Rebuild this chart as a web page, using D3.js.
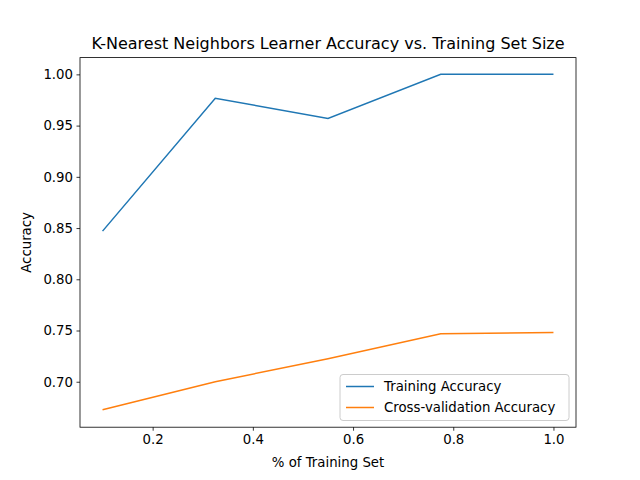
<!DOCTYPE html>
<html>
<head>
<script src="https://cdn.jsdelivr.net/npm/d3@7"></script>
<style>
body { margin: 0; background: #fff; }
text { font-family: "DejaVu Sans", sans-serif; }
</style>
</head>
<body>
<svg width="640" height="480"></svg>
<script>
var fractions = [0.1, 0.325, 0.55, 0.775, 1.0];
var trainAcc = [0.847, 0.9766, 0.957, 1.0, 1.0];
var cvAcc = [0.6727, 0.700, 0.7224, 0.7468, 0.748];
var xTicks = [0.2, 0.4, 0.6, 0.8, 1.0];
var yTicks = [0.70, 0.75, 0.80, 0.85, 0.90, 0.95, 1.00];
var seriesNames = ["Training Accuracy", "Cross-validation Accuracy"];
var colors = ["#1f77b4", "#ff7f0e"];

var svg = d3.select("svg");
var L = 80, R = 576, T = 57.6, B = 427.2;

var x = d3.scaleLinear().domain([0.055, 1.045]).range([L, R]);
var y = d3.scaleLinear().domain([0.65563, 1.01637]).range([B, T]);

var xAxis = svg.append("g").attr("transform", "translate(0," + B + ")")
    .call(d3.axisBottom(x).tickValues(xTicks).tickFormat(d3.format(".1f")).tickSizeOuter(0).tickSize(3.5).tickPadding(3.5));
var yAxis = svg.append("g").attr("transform", "translate(" + L + ",0)")
    .call(d3.axisLeft(y).tickValues(yTicks).tickFormat(d3.format(".2f")).tickSizeOuter(0).tickSize(3.5).tickPadding(3.5));
[xAxis, yAxis].forEach(function (a) {
    a.select(".domain").remove();
    a.selectAll("text").attr("font-size", 13.3).attr("fill", "#000").attr("font-family", "DejaVu Sans");
    a.selectAll("line").attr("stroke", "#000").attr("stroke-width", 0.8);
});

svg.append("rect").attr("x", L).attr("y", T).attr("width", R - L).attr("height", B - T)
    .attr("fill", "none").attr("stroke", "#000").attr("stroke-width", 0.8);

var line = d3.line().x(function (d) { return x(d[0]); }).y(function (d) { return y(d[1]); });
[trainAcc, cvAcc].forEach(function (s, i) {
    svg.append("path").attr("d", line(d3.zip(fractions, s)))
        .attr("fill", "none").attr("stroke", colors[i]).attr("stroke-width", 1.5);
});

svg.append("text").attr("x", (L + R) / 2).attr("y", 49).attr("text-anchor", "middle")
    .attr("font-size", 16).text("K-Nearest Neighbors Learner Accuracy vs. Training Set Size");
svg.append("text").attr("x", (L + R) / 2).attr("y", 467).attr("text-anchor", "middle")
    .attr("font-size", 13.3).text("% of Training Set");
svg.append("text").attr("transform", "translate(31," + (T + B) / 2 + ") rotate(-90)")
    .attr("text-anchor", "middle").attr("font-size", 13.3).text("Accuracy");

var lg = svg.append("g").attr("transform", "translate(340,374.5)");
lg.append("rect").attr("width", 229).attr("height", 46).attr("rx", 3)
    .attr("fill", "#fff").attr("fill-opacity", 0.8).attr("stroke", "#ccc").attr("stroke-width", 1);
seriesNames.forEach(function (n, i) {
    var yy = 12 + i * 21;
    lg.append("line").attr("x1", 6).attr("x2", 34).attr("y1", yy).attr("y2", yy)
        .attr("stroke", colors[i]).attr("stroke-width", 1.5);
    lg.append("text").attr("x", 44).attr("y", yy + 4.5).attr("font-size", 13.3).text(n);
});
</script>
</body>
</html>
